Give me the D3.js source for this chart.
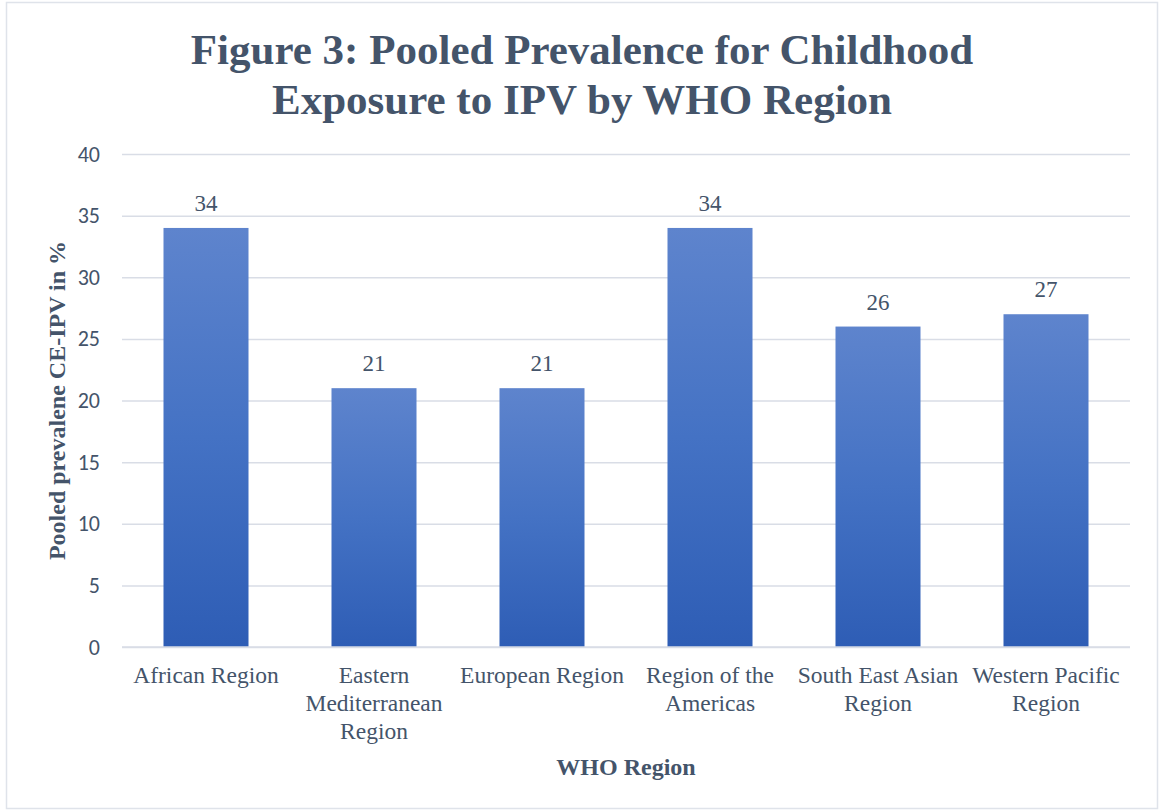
<!DOCTYPE html>
<html>
<head>
<meta charset="utf-8">
<script src="https://cdn.jsdelivr.net/npm/d3@7"></script>
<style>
  html, body { margin: 0; padding: 0; background: #fff; }
  svg { display: block; }
</style>
</head>
<body>
<div id="chart"></div>
<script>
// Pooled prevalence of childhood exposure to IPV, by WHO region
const regions = [
  ["African Region"],
  ["Eastern", "Mediterranean", "Region"],
  ["European Region"],
  ["Region of the", "Americas"],
  ["South East Asian", "Region"],
  ["Western Pacific", "Region"]
];
const prevalence = [34, 21, 21, 34, 26, 27];
const yTicks = [0, 5, 10, 15, 20, 25, 30, 35, 40];
const titleLines = ["Figure 3: Pooled Prevalence for Childhood", "Exposure to IPV by WHO Region"];
const xTitle = "WHO Region";
const yTitle = "Pooled prevalene CE-IPV in %";

const W = 1161, H = 811;
const margin = { top: 154, right: 31, bottom: 164, left: 122 };
const innerW = W - margin.left - margin.right;
const innerH = H - margin.top - margin.bottom;
const textColor = "#44546a";
const serif = "'Liberation Serif', 'Times New Roman', serif";
const sans = "Carlito, Lato, 'Open Sans', sans-serif";

const svg = d3.select("#chart").append("svg")
  .attr("width", W).attr("height", H);

// bar fill gradient, lighter at the top
const defs = svg.append("defs");
const grad = defs.append("linearGradient")
  .attr("id", "barFill").attr("x1", 0).attr("y1", 0).attr("x2", 0).attr("y2", 1);
grad.append("stop").attr("offset", "0%").attr("stop-color", "#5e84cd");
grad.append("stop").attr("offset", "50%").attr("stop-color", "#4472c4");
grad.append("stop").attr("offset", "100%").attr("stop-color", "#2e5db5");

// outer frame
svg.append("rect")
  .attr("x", 6.5).attr("y", 2.5).attr("width", W - 10).attr("height", H - 5)
  .attr("fill", "#fff").attr("stroke", "#dfe3ea").attr("stroke-width", 1.5);

const g = svg.append("g").attr("transform", `translate(${margin.left},${margin.top})`);

const x = d3.scaleBand()
  .domain(d3.range(regions.length))
  .range([0, innerW])
  .paddingInner(0.494)
  .paddingOuter(0.247);

const y = d3.scaleLinear().domain([0, 40]).range([innerH, 0]);

// gridlines and value axis
const yAxis = d3.axisLeft(y).tickValues(yTicks).tickSize(-innerW).tickPadding(22);
const yG = g.append("g").call(yAxis);
yG.select(".domain").remove();
yG.selectAll(".tick line").attr("stroke", "#d9dde6").attr("stroke-width", 1.5);
yG.selectAll(".tick text")
  .attr("fill", textColor)
  .style("font-family", sans)
  .style("font-size", "22px");

// bars
g.selectAll("rect.bar")
  .data(prevalence)
  .join("rect")
  .attr("class", "bar")
  .attr("x", (d, i) => x(i))
  .attr("width", x.bandwidth())
  .attr("y", d => y(d))
  .attr("height", d => innerH - y(d))
  .attr("fill", "url(#barFill)");

// baseline
g.append("line")
  .attr("x1", 0).attr("x2", innerW)
  .attr("y1", innerH).attr("y2", innerH)
  .attr("stroke", "#d9dde6").attr("stroke-width", 1.5);

// value labels
g.selectAll("text.value")
  .data(prevalence)
  .join("text")
  .attr("class", "value")
  .attr("x", (d, i) => x(i) + x.bandwidth() / 2)
  .attr("y", d => y(d) - 17)
  .attr("text-anchor", "middle")
  .attr("fill", textColor)
  .style("font-family", serif)
  .style("font-size", "23px")
  .text(d => d);

// category labels
const cat = g.selectAll("text.cat")
  .data(regions)
  .join("text")
  .attr("class", "cat")
  .attr("text-anchor", "middle")
  .attr("fill", textColor)
  .style("font-family", serif)
  .style("font-size", "23.5px")
  .attr("transform", (d, i) => `translate(${x(i) + x.bandwidth() / 2},${innerH + 36})`);
cat.selectAll("tspan")
  .data(d => d)
  .join("tspan")
  .attr("x", 0)
  .attr("dy", (d, j) => j === 0 ? 0 : 28)
  .text(d => d);

// axis titles
svg.append("text")
  .attr("x", margin.left + innerW / 2)
  .attr("y", 775)
  .attr("text-anchor", "middle")
  .attr("fill", textColor)
  .style("font-family", serif)
  .style("font-weight", "bold")
  .style("font-size", "24px")
  .text(xTitle);

svg.append("text")
  .attr("transform", `translate(65,${margin.top + innerH / 2}) rotate(-90)`)
  .attr("text-anchor", "middle")
  .attr("fill", textColor)
  .style("font-family", serif)
  .style("font-weight", "bold")
  .style("font-size", "24px")
  .text(yTitle);

// chart title
svg.append("text")
  .attr("y", 64)
  .attr("text-anchor", "middle")
  .attr("fill", textColor)
  .style("font-family", serif)
  .style("font-weight", "bold")
  .style("font-size", "43px")
  .selectAll("tspan")
  .data(titleLines)
  .join("tspan")
  .attr("x", 582)
  .attr("dy", (d, i) => i === 0 ? 0 : 50)
  .text(d => d);
</script>
</body>
</html>
